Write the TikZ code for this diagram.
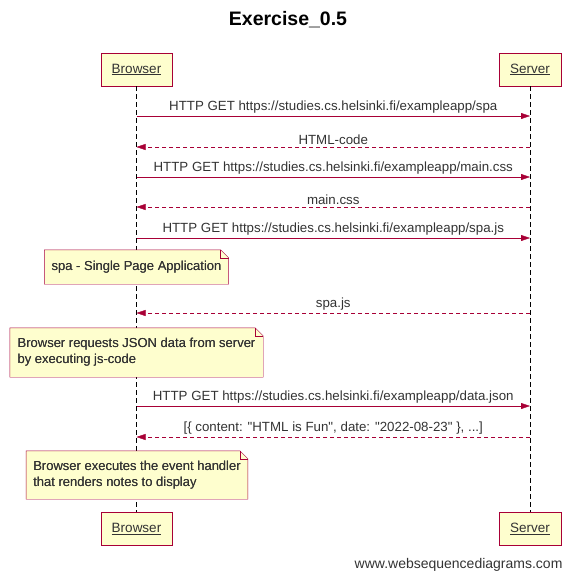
\documentclass[tikz,border=0pt]{standalone}
\usepackage{fontspec}
\setmainfont{Liberation Sans}
\usetikzlibrary{arrows.meta,positioning,calc}

\definecolor{wsdred}{HTML}{A80036}
\definecolor{wsdfill}{HTML}{FEFECE}
\definecolor{wsdtext}{HTML}{333333}

% folded corner of a note
\newcommand{\dogear}[1]{%
  \fill[white] ([xshift=-8pt]#1.north east) -- (#1.north east) -- ([yshift=-8pt]#1.north east) -- cycle;
  \draw[wsdred] (#1.south west) -- (#1.north west) -- ([xshift=-8pt]#1.north east)
    -- ([yshift=-8pt]#1.north east) -- (#1.south east) -- cycle;
  \draw[wsdred] ([xshift=-8pt]#1.north east) |- ([yshift=-8pt]#1.north east);}

\begin{document}
\begin{tikzpicture}[x=1pt, y=-1pt,
    actor/.style={draw=wsdred, fill=wsdfill, minimum height=33pt, font=\fontsize{13.5}{15}\selectfont, text=wsdtext},
    lifeline/.style={dash pattern=on 5pt off 3pt},
    msg/.style={draw=wsdred, -{Triangle[length=9pt,width=6pt]}},
    reply/.style={msg, dash pattern=on 4pt off 3pt},
    msglabel/.style={above=-1pt, font=\fontsize{13.3}{15}\selectfont, text=wsdtext},
    note/.style={fill=wsdfill, align=left, inner xsep=7pt, inner ysep=6pt, font=\fontsize{13}{16}\selectfont, text=wsdtext}]
    \useasboundingbox (0,0) rectangle (575,579);

    % Title
    \node[font=\fontsize{19.5}{22}\selectfont\bfseries] (title) at (288,20) {Exercise\_0.5};

    % Actors
    \node[actor, minimum width=71pt] (browserTop) at (136.5,69.5) {\underline{Browser}};
    \node[actor, minimum width=62pt] (serverTop) at (530,69.5) {\underline{Server}};
    \node[actor, minimum width=71pt] (browserBot) at (136.5,529) {\underline{Browser}};
    \node[actor, minimum width=62pt] (serverBot) at (530,529) {\underline{Server}};

    % Lifelines
    \draw[lifeline] (browserTop) -- (browserBot);
    \draw[lifeline] (serverTop) -- (serverBot);

    % Points on the lifelines
    \coordinate (b1) at (136.5,116); \coordinate (s1) at (530,116);
    \coordinate (b2) at (136.5,147); \coordinate (s2) at (530,147);
    \coordinate (b3) at (136.5,177); \coordinate (s3) at (530,177);
    \coordinate (b4) at (136.5,207); \coordinate (s4) at (530,207);
    \coordinate (b5) at (136.5,238); \coordinate (s5) at (530,238);
    \coordinate (b6) at (136.5,313); \coordinate (s6) at (530,313);
    \coordinate (b7) at (136.5,406); \coordinate (s7) at (530,406);
    \coordinate (b8) at (136.5,437); \coordinate (s8) at (530,437);

    % Messages
    \draw[msg] (b1) -- (s1) node[msglabel, midway] {HTTP GET https://studies.cs.helsinki.fi/exampleapp/spa};
    \draw[reply] (s2) -- (b2) node[msglabel, midway] {HTML-code};
    \draw[msg] (b3) -- (s3) node[msglabel, midway] {HTTP GET https://studies.cs.helsinki.fi/exampleapp/main.css};
    \draw[reply] (s4) -- (b4) node[msglabel, midway] {main.css};
    \draw[msg] (b5) -- (s5) node[msglabel, midway] {HTTP GET https://studies.cs.helsinki.fi/exampleapp/spa.js};
    \draw[reply] (s6) -- (b6) node[msglabel, midway] {spa.js};
    \draw[msg] (b7) -- (s7) node[msglabel, midway] {HTTP GET https://studies.cs.helsinki.fi/exampleapp/data.json};
    \draw[reply] (s8) -- (b8) node[msglabel, midway] {[\{ content: \textquotedbl HTML is Fun\textquotedbl, date: \textquotedbl 2022-08-23\textquotedbl{} \}, ...]};

    % Notes
    \node[note, minimum width=183pt, minimum height=34pt] (spaNote) at (136.5,267) {spa - Single Page Application};
    \dogear{spaNote}
    \node[note, minimum width=253pt, minimum height=49pt] (jsonNote) at (136.5,352.5) {Browser requests JSON data from server\\by executing js-code};
    \dogear{jsonNote}
    \node[note, minimum width=220pt, minimum height=48pt] (handlerNote) at (137,475) {Browser executes the event handler\\that renders notes to display};
    \dogear{handlerNote}
    \node[note, fill=none] at (spaNote) {spa - Single Page Application};
    \node[note, fill=none] at (jsonNote) {Browser requests JSON data from server\\by executing js-code};
    \node[note, fill=none] at (handlerNote) {Browser executes the event handler\\that renders notes to display};

    % Watermark
    \node[anchor=east, font=\fontsize{14}{16}\selectfont, text=wsdtext] (credit) at (566,565) {www.websequencediagrams.com};
\end{tikzpicture}
\end{document}
